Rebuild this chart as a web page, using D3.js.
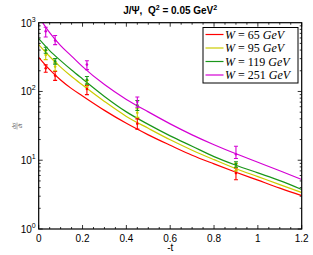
<!DOCTYPE html>
<html>
<head>
<meta charset="utf-8">
<script src="https://cdn.jsdelivr.net/npm/d3@7.9.0/dist/d3.min.js"></script>
<style>
  body { margin: 0; background: #fff; }
  svg { display: block; font-family: "Liberation Sans", Arial, sans-serif; }
</style>
</head>
<body>
<svg id="chart" width="313" height="255"></svg>
<script>
// fitted curves
const tGrid = [0, 0.05, 0.1, 0.15, 0.2, 0.3, 0.4, 0.5, 0.6, 0.7, 0.8, 0.9, 1.0, 1.1, 1.2];
const fit65  = [314, 208, 147, 110, 86, 53.1, 34.4, 23.4, 16.5, 11.8, 8.84, 6.70, 5.13, 3.93, 3.06];
const fit95  = [480, 322, 226, 165, 124, 71.6, 43.4, 29.1, 19.8, 14.0, 10.2, 7.53, 5.77, 4.42, 3.40];
const fit119 = [586, 393, 281, 205, 152, 84.7, 50.5, 33.2, 22.6, 16.0, 11.3, 8.46, 6.54, 5.05, 3.76];
const fit251 = [1222, 716, 464, 327, 230, 126, 76.6, 50.5, 33.8, 23.4, 16.8, 12.4, 9.35, 7.04, 5.25];

// measured points with error bars
const dataT = [0.032, 0.075, 0.22, 0.45, 0.9];
const pts65  = [218, 170, 109, 34, 6.5];
const lo65   = [190, 145, 90, 28.3, 5.2];
const hi65   = [244, 195, 122, 40, 7.7];
const pts95  = [340, 230, 130, 49, 8.0];
const lo95   = [290, 200, 116, 42, 7.0];
const hi95   = [395, 262, 145, 56, 9.0];
const pts119 = [400, 275, 148, 63, 8.7];
const lo119  = [360, 250, 128, 53, 7.9];
const hi119  = [440, 300, 165, 74, 9.5];
const pts251 = [750, 550, 246, 71, 12.2];
const lo251  = [620, 480, 208, 59, 10.6];
const hi251  = [860, 650, 280, 83, 16];

const wLabels = ['65', '95', '119', '251'];
const colors = ['#ff0000', '#cccc00', '#1a961a', '#d400d4'];
const xTicks = [0, 0.2, 0.4, 0.6, 0.8, 1, 1.2];
const yTicks = [1, 10, 100, 1000];

const series = [
  { fit: fit65,  pts: pts65,  lo: lo65,  hi: hi65 },
  { fit: fit95,  pts: pts95,  lo: lo95,  hi: hi95 },
  { fit: fit119, pts: pts119, lo: lo119, hi: hi119 },
  { fit: fit251, pts: pts251, lo: lo251, hi: hi251 }
];

const plotL = 38.7, plotR = 301.7, plotT = 22.7, plotB = 229;
const svg = d3.select('#chart');

const x = d3.scaleLinear().domain([0, 1.2]).range([plotL, plotR]);
const y = d3.scaleLog().domain([1, 1000]).range([plotB, plotT]);

svg.append('defs').append('clipPath').attr('id', 'clip')
  .append('rect')
  .attr('x', plotL).attr('y', plotT)
  .attr('width', plotR - plotL).attr('height', plotB - plotT);

// ticks (inside, all four sides)
const tickG = svg.append('g').attr('stroke', '#000').attr('stroke-width', 0.8);
const xMinor = d3.range(0, 1.2001, 0.05);
xMinor.forEach(v => {
  const major = xTicks.some(t => Math.abs(t - v) < 1e-6);
  const len = major ? 4 : 2;
  tickG.append('line').attr('x1', x(v)).attr('x2', x(v)).attr('y1', plotB).attr('y2', plotB - len);
  tickG.append('line').attr('x1', x(v)).attr('x2', x(v)).attr('y1', plotT).attr('y2', plotT + len);
});
for (let d = 0; d < 3; d++) {
  for (let m = 1; m <= 9; m++) {
    const v = m * Math.pow(10, d);
    const len = m === 1 ? 4 : 2;
    tickG.append('line').attr('x1', plotL).attr('x2', plotL + len).attr('y1', y(v)).attr('y2', y(v));
    tickG.append('line').attr('x1', plotR).attr('x2', plotR - len).attr('y1', y(v)).attr('y2', y(v));
  }
}

// curves
const line = d3.line()
  .x(d => x(d[0]))
  .y(d => y(d[1]))
  .curve(d3.curveMonotoneX);

const plot = svg.append('g').attr('clip-path', 'url(#clip)');
series.forEach((s, i) => {
  plot.append('path')
    .datum(tGrid.map((t, k) => [t, s.fit[k]]))
    .attr('d', line)
    .attr('fill', 'none')
    .attr('stroke', colors[i])
    .attr('stroke-width', 1.2);
});

// error bars
series.forEach((s, i) => {
  const g = plot.append('g').attr('stroke', colors[i]).attr('stroke-width', 1.1);
  dataT.forEach((t, k) => {
    const cx = x(t);
    g.append('line').attr('x1', cx).attr('x2', cx).attr('y1', y(s.lo[k])).attr('y2', y(s.hi[k]));
    g.append('line').attr('x1', cx - 2).attr('x2', cx + 2).attr('y1', y(s.lo[k])).attr('y2', y(s.lo[k]));
    g.append('line').attr('x1', cx - 2).attr('x2', cx + 2).attr('y1', y(s.hi[k])).attr('y2', y(s.hi[k]));
    g.append('circle').attr('cx', cx).attr('cy', y(s.pts[k])).attr('r', 1.3)
      .attr('fill', colors[i]).attr('stroke', 'none');
  });
});

// frame
svg.append('rect')
  .attr('x', plotL).attr('y', plotT)
  .attr('width', plotR - plotL).attr('height', plotB - plotT)
  .attr('fill', 'none').attr('stroke', '#000').attr('stroke-width', 1.2);

// x tick labels
svg.append('g').selectAll('text')
  .data(xTicks)
  .join('text')
  .attr('x', d => x(d))
  .attr('y', plotB + 12.5)
  .attr('text-anchor', 'middle')
  .attr('font-size', 10)
  .text(d => d3.format('~g')(d));

// y tick labels 10^n
const yl = svg.append('g').selectAll('text')
  .data(yTicks)
  .join('text')
  .attr('x', plotL - 3)
  .attr('y', d => y(d) + 4)
  .attr('text-anchor', 'end')
  .attr('font-size', 10);
yl.append('tspan').text('10');
yl.append('tspan').attr('font-size', 7).attr('dy', -5).text(d => Math.round(Math.log10(d)));

// axis titles
svg.append('text')
  .attr('x', (plotL + plotR) / 2).attr('y', 251)
  .attr('text-anchor', 'middle').attr('font-size', 10)
  .text('-t');

const yLab = svg.append('g').attr('transform', 'translate(17,126) rotate(-90)')
  .attr('fill', '#555').attr('font-family', '"Liberation Serif", serif').attr('font-style', 'italic');
yLab.append('text').attr('x', 0).attr('y', -1).attr('text-anchor', 'middle').attr('font-size', 6).text('dσ');
yLab.append('text').attr('x', 0).attr('y', 5).attr('text-anchor', 'middle').attr('font-size', 6).text('dt');
yLab.append('line').attr('x1', -3.5).attr('x2', 3.5).attr('y1', 0).attr('y2', 0)
  .attr('stroke', '#555').attr('stroke-width', 0.5);

// title
const title = svg.append('text')
  .attr('x', (plotL + plotR) / 2).attr('y', 14)
  .attr('text-anchor', 'middle')
  .attr('font-size', 10).attr('font-weight', 'bold');
title.append('tspan').text('J/Ψ,\u00a0\u00a0Q');
title.append('tspan').attr('font-size', 7).attr('dy', -4).text('2');
title.append('tspan').attr('dy', 4).text(' = 0.05 GeV');
title.append('tspan').attr('font-size', 7).attr('dy', -4).text('2');

// legend
const lg = svg.append('g');
lg.append('rect')
  .attr('x', 203).attr('y', 27.5).attr('width', 95).attr('height', 55.5)
  .attr('fill', '#fff').attr('stroke', '#000').attr('stroke-width', 1);
wLabels.forEach((w, i) => {
  const ly = 34.5 + i * 13.5;
  lg.append('line')
    .attr('x1', 205.5).attr('x2', 223.5).attr('y1', ly).attr('y2', ly)
    .attr('stroke', colors[i]).attr('stroke-width', 1.2);
  const t = lg.append('text')
    .attr('x', 225).attr('y', ly + 4)
    .attr('font-family', '"Liberation Serif", "Times New Roman", serif')
    .attr('font-size', 12);
  t.append('tspan').attr('font-style', 'italic').text('W');
  t.append('tspan').text('\u00a0= ' + w + ' ');
  t.append('tspan').attr('font-style', 'italic').text('GeV');
});
</script>
</body>
</html>
